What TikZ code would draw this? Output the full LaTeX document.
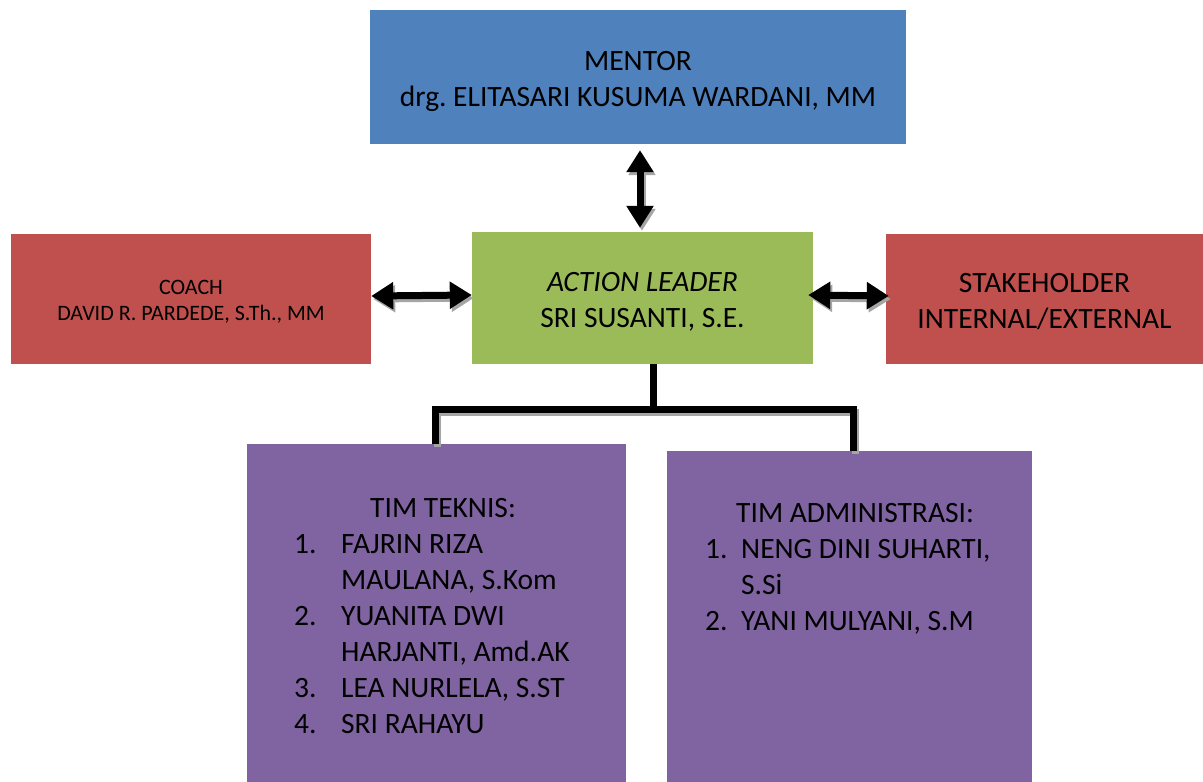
\documentclass[tikz,border=0pt]{standalone}
\usepackage{fontspec}
\setmainfont{Carlito}
\usetikzlibrary{arrows.meta, positioning, calc}
\definecolor{mblue}  {RGB}{79,129,189}
\definecolor{lgreen} {RGB}{155,187,89}
\definecolor{dred}   {RGB}{192,80,77}
\definecolor{mpurple}{RGB}{128,100,162}
\definecolor{sgray}  {RGB}{165,165,165}

\tikzset{
  box/.style={inner sep=0pt},
  boxtext/.style={inner sep=0pt, align=center,
              font=\fontsize{29.5}{36}\selectfont\frenchspacing},
  listtext/.style={inner sep=0pt, anchor=north west,
              font=\fontsize{29.5}{36}\selectfont\frenchspacing},
  twoway/.style={line width=7pt,
              {Triangle[width=26pt,length=22pt]}-{Triangle[width=26pt,length=22pt]}},
  link/.style={line width=7pt},
  shade/.style={sgray, transform canvas={shift={(2pt,-3pt)}}}
}

\begin{document}
\begin{tikzpicture}[x=1pt, y=-1pt]
  \useasboundingbox (0,0) rectangle (1203,782);

  % top and middle row
  \node[box, fill=mblue, minimum width=536pt, minimum height=134pt] (mentor) at (638,77) {};
  \node[box, fill=lgreen, minimum width=341pt, minimum height=132pt] (leader) at (642.5,298) {};
  \node[box, fill=dred, minimum width=360pt, minimum height=130pt] (coach) at (191,299) {};
  \node[box, fill=dred, minimum width=317pt, minimum height=130pt] (stake) at (1044.5,299) {};

  \node[boxtext] (mentor text) at ([yshift=-4pt]mentor.center)
    {MENTOR\\drg. ELITASARI KUSUMA WARDANI, MM};
  \node[boxtext] (leader text) at ([yshift=-4pt]leader.center)
    {\textit{ACTION LEADER}\\SRI SUSANTI, S.E.};
  \node[boxtext, font=\fontsize{22}{26}\selectfont\frenchspacing] (coach text)
    at ([yshift=-3pt]coach.center) {COACH\\DAVID R. PARDEDE, S.Th., MM};
  \node[boxtext] (stake text) at ([yshift=-3pt]stake.center)
    {STAKEHOLDER\\INTERNAL/EXTERNAL};

  % teams
  \node[box, fill=mpurple, minimum width=379pt, minimum height=338pt] (teknis) at (436.5,613) {};
  \node[box, fill=mpurple, minimum width=365pt, minimum height=331pt] (admin) at (849.5,616.5) {};

  \node[listtext] (teknis list) at (294,492) {%
    \begin{tabular}{@{}p{47pt}@{}l@{}}
      \multicolumn{2}{@{}l@{}}{\hspace{76pt}TIM TEKNIS:}\\
      1. & FAJRIN RIZA\\
         & MAULANA, S.Kom\\
      2. & YUANITA DWI\\
         & HARJANTI, Amd.AK\\
      3. & LEA NURLELA, S.ST\\
      4. & SRI RAHAYU
    \end{tabular}};
  \node[listtext] (admin list) at (705,497) {%
    \begin{tabular}{@{}p{36pt}@{}l@{}}
      \multicolumn{2}{@{}l@{}}{\hspace{31pt}TIM ADMINISTRASI:}\\
      1. & NENG DINI SUHARTI,\\
         & S.Si\\
      2. & YANI MULYANI, S.M
    \end{tabular}};

  % arrows with their shadows
  \draw[twoway, shade] ($(mentor.south)+(2,6)$) -- ($(leader.north)+(-2.5,-4)$);
  \draw[twoway] ($(mentor.south)+(2,6)$) -- ($(leader.north)+(-2.5,-4)$);
  \draw[twoway, shade] ([yshift=3pt]coach.east) -- ([yshift=3pt]leader.west);
  \draw[twoway] ([yshift=3pt]coach.east) -- ([yshift=3pt]leader.west);
  \draw[twoway, shade] ([shift={(-5pt,3pt)}]leader.east) -- ([shift={(3pt,3pt)}]stake.west);
  \draw[twoway] ([shift={(-5pt,3pt)}]leader.east) -- ([shift={(3pt,3pt)}]stake.west);

  % tree to the teams
  \coordinate (bar) at (653,409);
  \draw[link, shade] ([xshift=-1.5pt]teknis.north) |- (bar) -| ([xshift=3.5pt]admin.north);
  \draw[link] ([xshift=10.5pt]leader.south) -- (bar);
  \draw[link] ([xshift=-1.5pt]teknis.north) |- (bar) -| ([xshift=3.5pt]admin.north);
\end{tikzpicture}
\end{document}
